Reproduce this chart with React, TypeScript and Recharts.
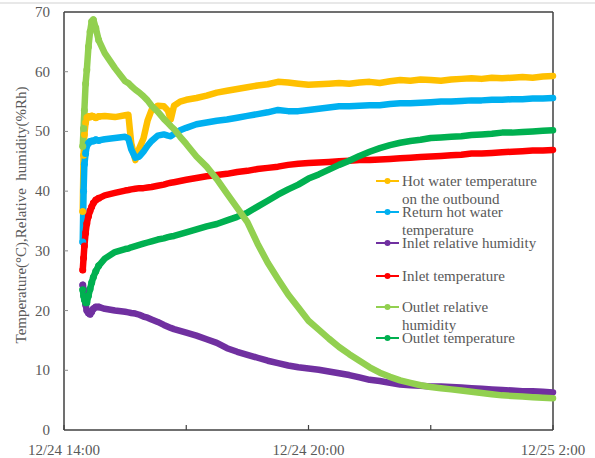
import { LineChart, Line, XAxis, YAxis, ReferenceLine } from 'recharts';

// hours after 12/24 14:00
const TIMES = [
  0.46, 0.48, 0.5, 0.53, 0.56, 0.6, 0.64, 0.68, 0.72, 0.78, 0.85, 1.0, 1.25, 1.5,
  1.58, 1.65, 1.75, 1.85, 1.95, 2.05, 2.15, 2.3, 2.45, 2.55, 2.62, 2.7, 2.85, 3.0,
  3.25, 3.5, 3.75, 4.0, 4.25, 4.5, 4.75, 5.0, 5.25, 5.5, 5.75, 6.0,
  6.25, 6.5, 6.75, 7.0, 7.25, 7.5, 7.75, 8.0, 8.25, 8.5, 8.75, 9.0,
  9.25, 9.5, 9.75, 10.0, 10.25, 10.5, 10.75, 11.0, 11.25, 11.5, 11.75, 12.0,
];

const HOT_OUT = [
  36.6, 46.0, 49.5, 51.5, 52.3, 52.5, 52.4, 52.6, 52.5, 52.3, 52.5, 52.6, 52.4, 52.7,
  52.8, 48.0, 45.2, 47.2, 48.8, 51.8, 53.6, 54.3, 54.2, 53.5, 52.0, 54.3, 55.0, 55.3,
  55.6, 56.0, 56.5, 56.8, 57.1, 57.4, 57.7, 57.9, 58.3, 58.2, 58.0, 57.8,
  57.9, 58.0, 58.1, 58.0, 58.2, 58.3, 58.1, 58.4, 58.6, 58.5, 58.7, 58.6,
  58.5, 58.7, 58.8, 58.9, 58.8, 59.0, 58.9, 59.0, 59.1, 59.0, 59.2, 59.3,
];
const RET_HOT = [
  31.5, 40.0, 44.5, 46.3, 47.6, 48.0, 48.3, 48.4, 48.4, 48.6, 48.5, 48.7, 48.9, 49.1,
  48.8, 47.0, 45.6, 45.8, 46.6, 47.6, 48.4, 49.3, 49.5, 49.3, 49.2, 49.6, 50.2, 50.6,
  51.2, 51.5, 51.8, 52.0, 52.3, 52.6, 52.9, 53.2, 53.6, 53.4, 53.4, 53.6,
  53.8, 54.0, 54.2, 54.2, 54.3, 54.4, 54.4, 54.6, 54.7, 54.7, 54.8, 54.9,
  55.0, 55.0, 55.1, 55.2, 55.2, 55.3, 55.3, 55.4, 55.4, 55.5, 55.5, 55.6,
];
const IN_RH = [
  24.3, 23.5, 22.5, 21.0, 20.0, 19.6, 19.4, 19.8, 20.3, 20.6, 20.6, 20.3, 20.0, 19.8,
  19.7, 19.6, 19.5, 19.3, 19.0, 18.8, 18.5, 18.1, 17.6, 17.3, 17.1, 16.9, 16.6, 16.3,
  15.8, 15.2, 14.6, 13.7, 13.1, 12.6, 12.1, 11.6, 11.2, 10.8, 10.5, 10.3,
  10.1, 9.8, 9.5, 9.2, 8.8, 8.4, 8.2, 7.9, 7.6, 7.5, 7.4, 7.3,
  7.3, 7.2, 7.1, 7.0, 6.9, 6.8, 6.7, 6.6, 6.5, 6.5, 6.4, 6.3,
];
const IN_T = [
  26.8, 28.8, 30.8, 33.0, 34.6, 35.8, 36.7, 37.4, 38.0, 38.5, 38.8, 39.3, 39.7, 40.1,
  40.2, 40.3, 40.4, 40.5, 40.5, 40.6, 40.7, 40.9, 41.1, 41.3, 41.4, 41.5, 41.7, 41.9,
  42.2, 42.5, 42.7, 42.9, 43.2, 43.4, 43.7, 43.9, 44.1, 44.4, 44.6, 44.7,
  44.8, 44.9, 45.0, 45.1, 45.2, 45.2, 45.3, 45.4, 45.5, 45.6, 45.7, 45.8,
  45.9, 46.0, 46.1, 46.3, 46.3, 46.4, 46.5, 46.6, 46.7, 46.8, 46.8, 46.9,
];
const OUT_RH = [
  47.5, 50.5, 53.5, 58.0, 60.3, 64.2, 66.7, 68.4, 68.7, 67.3, 65.3, 63.1, 60.6, 58.4,
  58.1, 57.6, 57.0, 56.5, 55.9, 55.2, 54.3, 53.3, 52.1, 51.4, 50.9, 50.4, 49.1, 47.9,
  45.8, 44.1, 42.0, 39.6, 37.2, 34.8, 31.2, 28.0, 25.3, 22.7, 20.5, 18.3,
  16.8, 15.3, 13.9, 12.7, 11.6, 10.5, 9.6, 8.9, 8.3, 7.9, 7.5, 7.2,
  7.0, 6.8, 6.6, 6.4, 6.2, 6.0, 5.8, 5.7, 5.6, 5.5, 5.4, 5.3,
];
const OUT_T = [
  23.5, 22.5, 21.8, 21.3, 21.3, 22.5, 23.6, 24.7, 25.6, 26.6, 27.5, 28.7, 29.8, 30.3,
  30.4, 30.6, 30.8, 31.0, 31.2, 31.4, 31.6, 31.9, 32.1, 32.3, 32.4, 32.5, 32.8, 33.1,
  33.6, 34.1, 34.5, 35.1, 35.7, 36.4, 37.4, 38.4, 39.4, 40.3, 41.1, 42.1,
  42.8, 43.6, 44.4, 45.1, 45.9, 46.6, 47.2, 47.7, 48.1, 48.4, 48.6, 48.9,
  49.0, 49.1, 49.2, 49.4, 49.5, 49.6, 49.8, 49.8, 49.9, 50.0, 50.1, 50.2,
];

const X_TICKS = [0, 3, 6, 9, 12];
const X_TICK_LABELS = ['12/24 14:00', '', '12/24 20:00', '', '12/25 2:00'];
const Y_TICKS = [0, 10, 20, 30, 40, 50, 60, 70];

// legend order
const SERIES = [
  { key: 'hotOut', lines: ['Hot water temperature', 'on the outbound'], color: '#FFC000' },
  { key: 'retHot', lines: ['Return hot water', 'temperature'], color: '#00B0F0' },
  { key: 'inRh', lines: ['Inlet relative humidity'], color: '#7030A0' },
  { key: 'inT', lines: ['Inlet temperature'], color: '#FF0000' },
  { key: 'outRh', lines: ['Outlet relative', 'humidity'], color: '#92D050' },
  { key: 'outT', lines: ['Outlet temperature'], color: '#00B050' },
];
// paint order (light green on top)
const DRAW_ORDER = ['hotOut', 'retHot', 'inRh', 'inT', 'outT', 'outRh'];

const rows = TIMES.map((t, i) => ({
  t,
  hotOut: HOT_OUT[i],
  retHot: RET_HOT[i],
  inRh: IN_RH[i],
  inT: IN_T[i],
  outRh: OUT_RH[i],
  outT: OUT_T[i],
}));

const FONT = 'Liberation Serif';
const TEXT = '#595959';
const FRAME = '#404040';
const LEGEND_Y = [181, 212, 243, 276, 307, 338];

const XTick = ({ x, y, payload }: any) => {
  const label = X_TICK_LABELS[X_TICKS.indexOf(payload.value)];
  return (
    <g>
      <line x1={x} x2={x} y1={y} y2={y - 5} stroke={FRAME} strokeWidth={1.2} />
      {label && (
        <text x={x} y={y + 25} textAnchor="middle" fill={TEXT} style={{ fontFamily: FONT, fontSize: 15 }}>
          {label}
        </text>
      )}
    </g>
  );
};

const YTick = ({ x, y, payload }: any) => (
  <g>
    {payload.value > 0 && payload.value < 70 && (
      <line x1={x} x2={x + 4} y1={y} y2={y} stroke="#8c8c8c" strokeWidth={1} />
    )}
    <text x={x - 14} y={y + 5} textAnchor="end" fill={TEXT} style={{ fontFamily: FONT, fontSize: 15 }}>
      {payload.value}
    </text>
  </g>
);

const startDot = (color: string) => (props: any) => {
  const { cx, cy, payload, index } = props;
  if (payload.t > 0.9) return <g key={index} />;
  return <circle key={index} cx={cx} cy={cy} r={3.5} fill={color} />;
};

export default function App() {
  return (
    <div style={{ position: 'absolute', left: 0, top: 0, width: 595, height: 458, background: '#fff' }}>
      <div style={{ position: 'absolute', left: 0, top: 0 }}>
        <LineChart
          width={595}
          height={458}
          data={rows}
          margin={{ top: 12, right: 42, left: 24, bottom: 0 }}
        >
          <XAxis
            dataKey="t"
            type="number"
            domain={[0, 12]}
            ticks={X_TICKS}
            height={28}
            tickSize={0}
            tickMargin={0}
            stroke={FRAME}
            strokeWidth={1.5}
            tickLine={false}
            tick={<XTick />}
            interval={0}
          />
          <YAxis
            type="number"
            domain={[0, 70]}
            ticks={Y_TICKS}
            width={40}
            tickSize={0}
            tickMargin={0}
            stroke={FRAME}
            strokeWidth={1.5}
            tickLine={false}
            tick={<YTick />}
            interval={0}
          />
          <ReferenceLine x={12} stroke={FRAME} strokeWidth={1.5} />
          <ReferenceLine y={70} stroke={FRAME} strokeWidth={1.5} />
          {DRAW_ORDER.map((key) => {
            const s = SERIES.find((d) => d.key === key)!;
            return (
              <Line
                key={key}
                dataKey={key}
                name={s.lines.join(' ')}
                type="linear"
                stroke={s.color}
                strokeWidth={6.5}
                strokeLinejoin="round"
                strokeLinecap="round"
                dot={startDot(s.color)}
                activeDot={false}
                isAnimationActive={false}
              />
            );
          })}
        </LineChart>
      </div>
      <svg width={595} height={458} style={{ position: 'absolute', left: 0, top: 0, pointerEvents: 'none' }}>
        <rect x={0} y={2} width={595} height={2} fill="#e8e8e8" />
        <text
          transform="translate(21 215) rotate(-90)"
          textAnchor="middle"
          dominantBaseline="central"
          fill={TEXT}
          style={{ whiteSpace: 'pre', fontFamily: FONT, fontSize: 15 }}
        >
          {'Temperature(°C),Relative  humidity(%Rh)'}
        </text>
        {SERIES.map((s, i) => {
          const y = LEGEND_Y[i];
          return (
            <g key={s.key}>
              <line x1={376} x2={399} y1={y} y2={y} stroke={s.color} strokeWidth={2} />
              <circle cx={387.5} cy={y} r={3} fill={s.color} />
              {s.lines.map((ln, j) => (
                <text key={j} x={402} y={y + 5 + j * 18} fill={TEXT} style={{ fontFamily: FONT, fontSize: 15 }}>
                  {ln}
                </text>
              ))}
            </g>
          );
        })}
      </svg>
    </div>
  );
}
